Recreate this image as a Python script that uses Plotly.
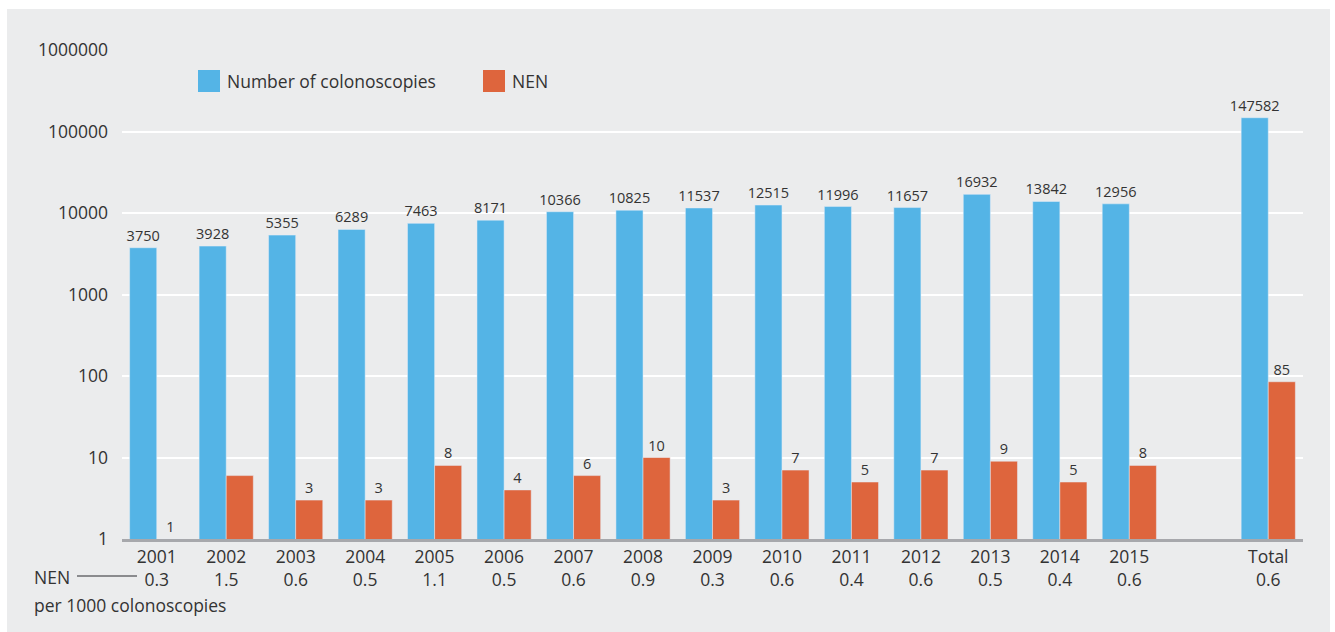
import plotly.graph_objects as go

years = ["2001", "2002", "2003", "2004", "2005", "2006", "2007", "2008",
         "2009", "2010", "2011", "2012", "2013", "2014", "2015", "Total"]
colonoscopies = [3750, 3928, 5355, 6289, 7463, 8171, 10366, 10825,
                 11537, 12515, 11996, 11657, 16932, 13842, 12956, 147582]
nen = [1, 6, 3, 3, 8, 4, 6, 10, 3, 7, 5, 7, 9, 5, 8, 85]
nen_labels = ["1", "", "3", "3", "8", "4", "6", "10", "3", "7", "5", "7", "9", "5", "8", "85"]
rate_labels = ["0.3", "1.5", "0.6", "0.5", "1.1", "0.5", "0.6", "0.9",
               "0.3", "0.6", "0.4", "0.6", "0.5", "0.4", "0.6", "0.6"]
y_ticks = [1, 10, 100, 1000, 10000, 100000, 1000000]

# positions: one empty slot before "Total"
pos = [i if i < len(years) - 1 else i + 1 for i in range(len(years))]

BLUE = "#54b4e6"
ORANGE = "#de653d"
TXT = "#333333"
FONT = "Open Sans"
FS = 17.5
LFS = 14.5

fig = go.Figure()
fig.add_trace(go.Bar(x=pos, y=colonoscopies, marker_color=BLUE, name="Number of colonoscopies",
                     text=[str(v) for v in colonoscopies], textposition="outside",
                     constraintext="none",
                     textfont=dict(size=LFS, color=TXT, family=FONT), cliponaxis=False))
fig.add_trace(go.Bar(x=pos, y=nen, marker_color=ORANGE, name="NEN",
                     text=nen_labels, textposition="outside",
                     constraintext="none",
                     textfont=dict(size=LFS, color=TXT, family=FONT), cliponaxis=False))

L, R, T, B = 122, 32, 50, 93
W, H = 1335, 632
pw, ph = W - L - R, H - T - B

def px(x):
    return (x - L) / pw

def py(y):
    return (H - B - y) / ph

shapes = [
    dict(type="rect", xref="paper", yref="paper", x0=px(7), x1=px(1330), y0=py(640), y1=py(9),
         fillcolor="#ebeced", line_width=0, layer="below"),
    dict(type="rect", xref="paper", yref="paper", x0=px(198), x1=px(220), y0=py(92), y1=py(70),
         fillcolor=BLUE, line_width=0),
    dict(type="rect", xref="paper", yref="paper", x0=px(483), x1=px(505), y0=py(92), y1=py(70),
         fillcolor=ORANGE, line_width=0),
    dict(type="line", xref="paper", yref="paper", x0=px(77), x1=px(137), y0=py(576), y1=py(576),
         line=dict(color="#8a8b8e", width=2)),
]
annotations = [
    dict(text="Number of colonoscopies", xref="paper", yref="paper", x=px(225), y=py(81),
         xanchor="left", yanchor="middle", showarrow=False, font=dict(size=FS, color=TXT, family=FONT)),
    dict(text="NEN", xref="paper", yref="paper", x=px(510), y=py(81),
         xanchor="left", yanchor="middle", showarrow=False, font=dict(size=FS, color=TXT, family=FONT)),
    dict(text="NEN", xref="paper", yref="paper", x=px(32), y=py(577),
         xanchor="left", yanchor="middle", showarrow=False, font=dict(size=FS, color=TXT, family=FONT)),
    dict(text="per 1000 colonoscopies", xref="paper", yref="paper", x=px(32), y=py(591),
         xanchor="left", yanchor="top", showarrow=False, font=dict(size=FS, color=TXT, family=FONT)),
]

fig.update_layout(
    width=W, height=H,
    margin=dict(l=L, r=R, t=T, b=B),
    paper_bgcolor="white",
    plot_bgcolor="rgba(0,0,0,0)",
    barmode="group", bargap=0.22, bargroupgap=0,
    showlegend=False,
    shapes=shapes, annotations=annotations,
    font=dict(family=FONT, color=TXT, size=FS),
)
fig.update_xaxes(range=[-0.5, 16.5], tickvals=pos,
                 ticktext=[f"{y}<br>{r}" for y, r in zip(years, rate_labels)],
                 showgrid=False, showline=True, linecolor="#a7a8ac", linewidth=3,
                 ticks="", tickfont=dict(size=FS, color=TXT, family=FONT))
fig.update_yaxes(type="log", range=[0, 6], tickvals=y_ticks, ticktext=[str(v) for v in y_ticks],
                 showgrid=True, gridcolor="white", gridwidth=2, zeroline=False,
                 ticks="", ticklabelstandoff=13, tickfont=dict(size=FS, color=TXT, family=FONT))

fig.write_html("out.html", config={"displayModeBar": False},
               post_script="document.body.style.margin='0';document.body.style.padding='0';")
